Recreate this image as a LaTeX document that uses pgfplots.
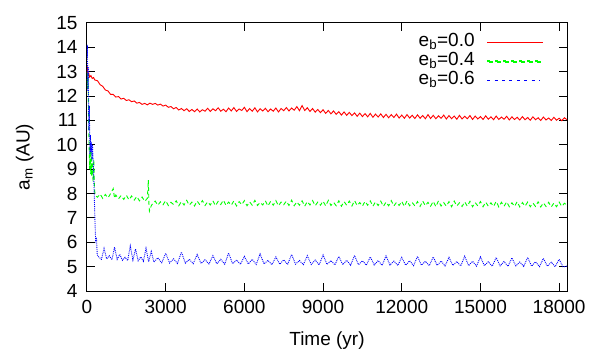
\documentclass[border=0pt]{standalone}
\usepackage{fontspec}
\setmainfont{Liberation Sans}
\usepackage{pgfplots}
\pgfplotsset{compat=1.18}
\definecolor{gpred}{RGB}{255,0,0}
\definecolor{gpgreen}{RGB}{0,255,0}
\definecolor{gpblue}{RGB}{0,0,255}
\pgfplotsset{
    redline/.style={legend image code/.code={\draw[gpred, line width=1bp] (0bp,0bp) -- (56bp,0bp);}},
    greenline/.style={legend image code/.code={%
        \foreach \k in {0,8,16,24,32,40,48} {\fill[gpgreen] (\k bp,-0.7bp) rectangle ++(5bp,1.4bp);}}},
    blueline/.style={legend image code/.code={\draw[gpblue, line width=1.2bp, dash pattern=on 3bp off 4.4bp] (0bp,0bp) -- (53bp,0bp);}},
}

\begin{document}
\begin{tikzpicture}
\path[use as bounding box] (-87bp,-59bp) rectangle (513bp,291bp);
\begin{axis}[
    scale only axis,
    width=480bp, height=268bp,
    xmin=0, xmax=18300,
    ymin=4, ymax=15,
    xtick={0,3000,6000,9000,12000,15000,18000},
    ytick={4,5,6,7,8,9,10,11,12,13,14,15},
    scaled x ticks=false,
    /pgf/number format/assume math mode=true,
    /pgf/number format/1000 sep={},
    font=\fontsize{19bp}{22bp}\selectfont,
    major tick length=8bp,
    axis line style={line width=1bp},
    every tick/.style={black, line width=1bp},
    yticklabel style={xshift=-6bp},
    xticklabel style={yshift=-6bp},
    xlabel={Time (yr)},
    ylabel={a\textsubscript{m} (AU)},
    xlabel style={at={(axis description cs:0.5,-0.1407)}, anchor=north},
    ylabel style={at={(axis description cs:-0.104,0.5)}, anchor=south},
    legend cell align=right,
    legend plot pos=right,
    legend style={draw=none, fill=none, inner sep=0bp, column sep=12bp,
        at={(0.952,0.962)}, anchor=north east,
        nodes={inner sep=0bp, text height=13.5bp, text depth=5.3bp}},
]

\addplot[draw=gpred, line width=0.9bp, redline] coordinates {
(0,12.95) (20,13.12) (40,12.85) (70,12.92) (100,12.78) (150,12.84) (200,12.72)
(250,12.76) (300,12.66) (400,12.63) (500,12.47) (600,12.40) (700,12.25) (800,12.21)
(900,12.07) (1000,12.07) (1100,11.96) (1200,11.98) (1300,11.88) (1400,11.91)
(1500,11.82) (1600,11.85) (1700,11.77) (1800,11.80) (1900,11.71) (2000,11.74)
(2100,11.66) (2200,11.70) (2300,11.64) (2400,11.71) (2500,11.66) (2600,11.70)
(2700,11.63) (2800,11.67) (2900,11.59) (3000,11.63) (3100,11.54) (3200,11.57)
(3300,11.48) (3400,11.53) (3500,11.43) (3600,11.49) (3700,11.40) (3800,11.48)
(3900,11.37) (4000,11.45) (4100,11.36) (4200,11.47) (4300,11.35) (4400,11.44)
(4500,11.38) (4600,11.50) (4700,11.37) (4800,11.48) (4900,11.40) (5000,11.52)
(5100,11.38) (5200,11.46) (5300,11.36) (5400,11.51) (5500,11.39) (5600,11.53)
(5700,11.37) (5800,11.47) (5900,11.41) (6000,11.54) (6100,11.36) (6200,11.49)
(6300,11.38) (6400,11.52) (6500,11.35) (6600,11.48) (6700,11.39) (6800,11.50)
(6900,11.36) (7000,11.47) (7100,11.38) (7200,11.51) (7300,11.35) (7400,11.49)
(7500,11.40) (7600,11.53) (7700,11.39) (7800,11.51) (7900,11.42) (8000,11.57)
(8100,11.40) (8200,11.61) (8300,11.41) (8400,11.52) (8500,11.37) (8600,11.49)
(8700,11.34) (8800,11.45) (8900,11.32) (9000,11.44) (9100,11.29) (9200,11.41)
(9300,11.27) (9400,11.39) (9500,11.25) (9600,11.36) (9700,11.22) (9800,11.35)
(9900,11.21) (10000,11.33) (10100,11.20) (10200,11.31) (10300,11.17) (10400,11.30)
(10500,11.16) (10600,11.28) (10700,11.15) (10800,11.29) (10900,11.13) (11000,11.26)
(11100,11.14) (11200,11.27) (11300,11.12) (11400,11.25) (11500,11.11) (11600,11.24)
(11700,11.12) (11800,11.26) (11900,11.10) (12000,11.22) (12100,11.09) (12200,11.24)
(12300,11.10) (12400,11.21) (12500,11.08) (12600,11.23) (12700,11.09) (12800,11.20)
(12900,11.07) (13000,11.24) (13100,11.08) (13200,11.21) (13300,11.07) (13400,11.19)
(13500,11.09) (13600,11.22) (13700,11.06) (13800,11.20) (13900,11.07) (14000,11.18)
(14100,11.05) (14200,11.21) (14300,11.06) (14400,11.17) (14500,11.07) (14600,11.20)
(14700,11.04) (14800,11.18) (14900,11.06) (15000,11.16) (15100,11.04) (15200,11.19)
(15300,11.05) (15400,11.15) (15500,11.03) (15600,11.18) (15700,11.04) (15800,11.14)
(15900,11.05) (16000,11.17) (16100,11.02) (16200,11.15) (16300,11.04) (16400,11.13)
(16500,11.02) (16600,11.16) (16700,11.03) (16800,11.12) (16900,11.01) (17000,11.15)
(17100,11.03) (17200,11.11) (17300,11.00) (17400,11.14) (17500,11.02) (17600,11.10)
(17700,11.00) (17800,11.13) (17900,11.01) (18000,11.09) (18100,10.99) (18200,11.11)
(18300,11.03)
};
\addlegendentry{e\textsubscript{b}=0.0}

\addplot[draw=gpgreen, line width=0.9bp, dash pattern=on 4bp off 3bp, greenline] coordinates {
(0,13.0) (20,12.3) (40,12.9) (60,11.2) (80,10.0) (100,9.0) (120,9.9) (140,8.8)
(160,9.7) (180,8.7) (200,9.3) (230,8.5) (260,9.4) (290,8.1) (330,7.9) (400,7.85)
(500,7.98) (600,7.80) (700,7.96) (800,7.82) (900,8.00) (1000,8.20) (1050,7.80)
(1100,7.94) (1200,7.78) (1300,7.92) (1400,7.76) (1500,7.93) (1600,7.74) (1700,7.90)
(1800,7.73) (1900,7.88) (2000,7.70) (2100,7.86) (2200,7.68) (2300,7.80) (2340,8.55)
(2360,7.60) (2380,7.28) (2450,7.50) (2500,7.58) (2600,7.69) (2700,7.52) (2800,7.66)
(2900,7.54) (3000,7.71) (3100,7.51) (3200,7.64) (3300,7.55) (3400,7.70) (3500,7.50)
(3600,7.67) (3700,7.53) (3800,7.72) (3900,7.52) (4000,7.65) (4100,7.49) (4200,7.69)
(4300,7.54) (4400,7.71) (4500,7.51) (4600,7.66) (4700,7.53) (4800,7.70) (4900,7.50)
(5000,7.68) (5100,7.55) (5200,7.73) (5300,7.51) (5400,7.65) (5500,7.52) (5600,7.70)
(5700,7.49) (5800,7.67) (5900,7.54) (6000,7.71) (6100,7.50) (6200,7.66) (6300,7.52)
(6400,7.72) (6500,7.51) (6600,7.64) (6700,7.53) (6800,7.70) (6900,7.49) (7000,7.68)
(7100,7.52) (7200,7.71) (7300,7.50) (7400,7.65) (7500,7.54) (7600,7.69) (7700,7.51)
(7800,7.73) (7900,7.50) (8000,7.66) (8100,7.52) (8200,7.70) (8300,7.48) (8400,7.67)
(8500,7.53) (8600,7.71) (8700,7.50) (8800,7.65) (8900,7.52) (9000,7.69) (9100,7.49)
(9200,7.72) (9300,7.51) (9400,7.64) (9500,7.50) (9600,7.70) (9700,7.48) (9800,7.67)
(9900,7.52) (10000,7.69) (10100,7.49) (10200,7.71) (10300,7.51) (10400,7.63)
(10500,7.48) (10600,7.68) (10700,7.52) (10800,7.70) (10900,7.48) (11000,7.66)
(11100,7.51) (11200,7.69) (11300,7.47) (11400,7.65) (11500,7.50) (11600,7.71)
(11700,7.49) (11800,7.64) (11900,7.51) (12000,7.68) (12100,7.47) (12200,7.70)
(12300,7.50) (12400,7.63) (12500,7.49) (12600,7.67) (12700,7.47) (12800,7.69)
(12900,7.50) (13000,7.64) (13100,7.48) (13200,7.68) (13300,7.46) (13400,7.70)
(13500,7.49) (13600,7.63) (13700,7.48) (13800,7.67) (13900,7.46) (14000,7.69)
(14100,7.49) (14200,7.62) (14300,7.47) (14400,7.66) (14500,7.48) (14600,7.68)
(14700,7.46) (14800,7.63) (14900,7.49) (15000,7.67) (15100,7.46) (15200,7.65)
(15300,7.48) (15400,7.62) (15500,7.47) (15600,7.68) (15700,7.45) (15800,7.64)
(15900,7.48) (16000,7.66) (16100,7.46) (16200,7.62) (16300,7.47) (16400,7.67)
(16500,7.45) (16600,7.63) (16700,7.48) (16800,7.65) (16900,7.46) (17000,7.61)
(17100,7.47) (17200,7.66) (17300,7.45) (17400,7.62) (17500,7.47) (17600,7.64)
(17700,7.45) (17800,7.61) (17900,7.46) (18000,7.65) (18100,7.47) (18200,7.60)
(18300,7.53)
};
\addlegendentry{e\textsubscript{b}=0.4}

\addplot[draw=gpblue, line width=0.9bp, densely dotted, blueline] coordinates {
(0,13.6) (15,14.1) (30,12.2) (50,13.2) (70,10.6) (90,11.6) (110,9.6) (130,10.4)
(150,9.7) (170,10.1) (190,9.4) (210,10.0) (240,9.2) (270,8.2) (300,7.0) (330,6.0)
(360,6.2) (390,5.5) (420,5.42) (550,5.30) (650,5.75) (750,5.32) (850,5.45) (950,5.28)
(1050,5.80) (1150,5.30) (1250,5.50) (1350,5.26) (1450,5.38) (1550,5.25) (1650,5.85)
(1750,5.27) (1850,5.72) (1950,5.24) (2050,5.40) (2150,5.22) (2250,5.75) (2350,5.20)
(2450,5.62) (2550,5.19) (2700,5.36) (2850,5.16) (3000,5.55) (3150,5.15) (3300,5.32)
(3450,5.13) (3600,5.60) (3750,5.14) (3900,5.30) (4050,5.12) (4200,5.50) (4350,5.13)
(4500,5.28) (4650,5.11) (4800,5.45) (4950,5.12) (5100,5.30) (5250,5.10) (5400,5.56)
(5550,5.12) (5700,5.27) (5850,5.10) (6000,5.42) (6150,5.11) (6300,5.30) (6450,5.09)
(6600,5.52) (6750,5.11) (6900,5.26) (7050,5.08) (7200,5.40) (7350,5.10) (7500,5.28)
(7650,5.09) (7800,5.50) (7950,5.10) (8100,5.25) (8250,5.08) (8400,5.45) (8550,5.09)
(8700,5.27) (8850,5.07) (9000,5.48) (9150,5.09) (9300,5.25) (9450,5.07) (9600,5.42)
(9750,5.08) (9900,5.26) (10050,5.06) (10200,5.46) (10350,5.08) (10500,5.24)
(10650,5.06) (10800,5.40) (10950,5.07) (11100,5.25) (11250,5.05) (11400,5.44)
(11550,5.07) (11700,5.23) (11850,5.05) (12000,5.38) (12150,5.06) (12300,5.24)
(12450,5.04) (12600,5.42) (12750,5.06) (12900,5.22) (13050,5.04) (13200,5.40)
(13350,5.05) (13500,5.23) (13650,5.03) (13800,5.38) (13950,5.05) (14100,5.21)
(14250,5.03) (14400,5.43) (14550,5.04) (14700,5.22) (14850,5.02) (15000,5.40)
(15150,5.04) (15300,5.20) (15450,5.02) (15600,5.37) (15750,5.03) (15900,5.21)
(16050,5.01) (16200,5.36) (16350,5.03) (16500,5.19) (16650,5.01) (16800,5.38)
(16950,5.02) (17100,5.20) (17250,5.00) (17400,5.34) (17550,5.02) (17700,5.18)
(17850,5.00) (18000,5.30) (18150,4.99) (18300,5.02)
};
\addlegendentry{e\textsubscript{b}=0.6}

\end{axis}
\end{tikzpicture}
\end{document}
